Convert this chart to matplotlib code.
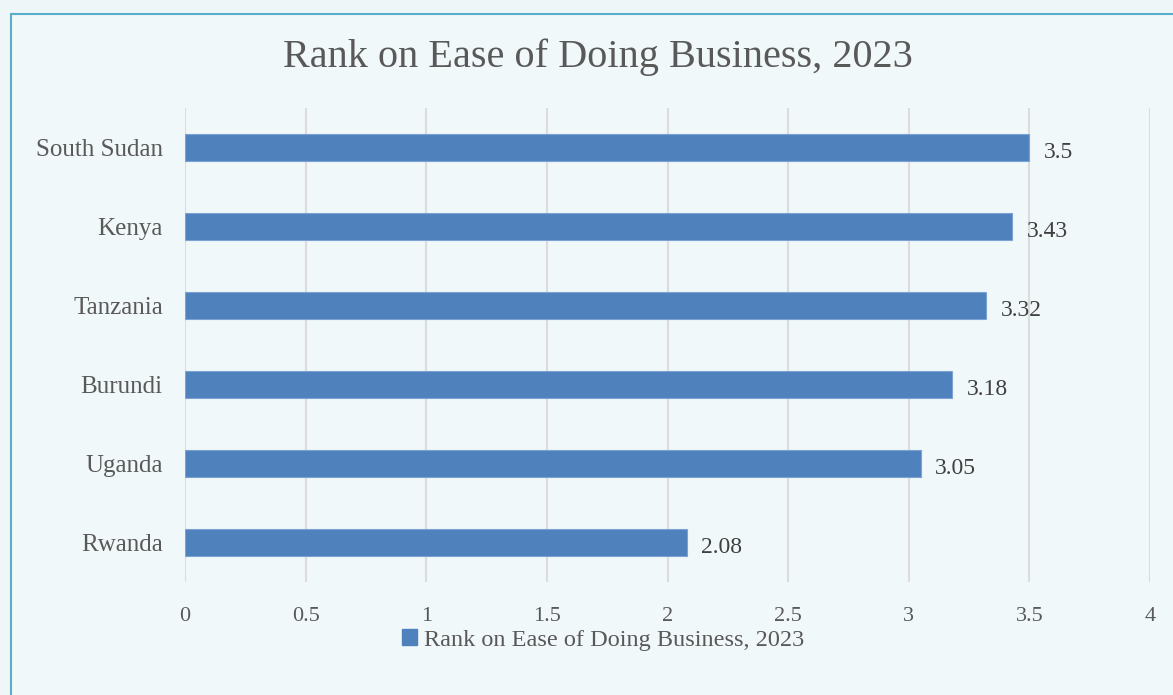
import matplotlib
matplotlib.use("Agg")
import matplotlib.pyplot as plt
from matplotlib.patches import Rectangle

countries = ["South Sudan", "Kenya", "Tanzania", "Burundi", "Uganda", "Rwanda"]
scores = [3.5, 3.43, 3.32, 3.18, 3.05, 2.08]
score_labels = ["3.5", "3.43", "3.32", "3.18", "3.05", "2.08"]
x_ticks = [0, 0.5, 1, 1.5, 2, 2.5, 3, 3.5, 4]
x_tick_labels = ["0", "0.5", "1", "1.5", "2", "2.5", "3", "3.5", "4"]
series_name = "Rank on Ease of Doing Business, 2023"

plt.rcParams["font.family"] = ["Liberation Serif", "DejaVu Serif"]

W, H = 1173, 695
fig = plt.figure(figsize=(W / 100, H / 100), dpi=100)
fig.patch.set_facecolor("#eef6f8")

# chart frame (runs past right and bottom edges)
fig.patches.append(Rectangle((11 / W, -0.1), 1.2, 1.1 - 14 / H, transform=fig.transFigure,
                             facecolor="#f1f8fa", edgecolor="#5aafc8", linewidth=1.5,
                             zorder=-5))

ax = fig.add_axes([185 / W, 1 - 582 / H, 965 / W, 474 / H])
ax.set_facecolor("none")
ax.set_zorder(2)

y = list(range(len(countries)))
bar_color = "#4f81bd"
ax.barh(y, scores, height=0.35, color=bar_color, edgecolor="#7aa3d4", linewidth=0.8,
        zorder=3)
for yi, v, lab in zip(y, scores, score_labels):
    ax.text(v + 0.06, yi + 0.06, lab, va="center", ha="left", fontsize=17,
            color="#404040")

ax.set_xlim(0, 4)
ax.set_ylim(len(countries) - 0.5, -0.5)
ax.set_xticks(x_ticks)
ax.set_xticklabels(x_tick_labels, fontsize=16, color="#595959")
ax.tick_params(axis="both", length=0)
ax.set_yticks(y)
ax.set_yticklabels(countries, fontsize=18, color="#595959")
ax.tick_params(axis="x", pad=18)
ax.tick_params(axis="y", pad=16)
ax.grid(axis="x", color="#dcdcdc", linewidth=1.5, zorder=0)
for s in ax.spines.values():
    s.set_visible(False)

fig.text(598 / W, 1 - 57 / H, series_name, ha="center", va="center", fontsize=29,
         color="#595959")

leg = fig.legend(handles=[Rectangle((0, 0), 1, 1, color=bar_color)], labels=[series_name],
                 loc="center", bbox_to_anchor=(603 / W, 1 - 640 / H), frameon=False,
                 fontsize=17.5, handlelength=0.6, handleheight=0.6, handletextpad=0.3)
for t in leg.get_texts():
    t.set_color("#595959")

fig.savefig("out.png", dpi=100, facecolor=fig.get_facecolor())
